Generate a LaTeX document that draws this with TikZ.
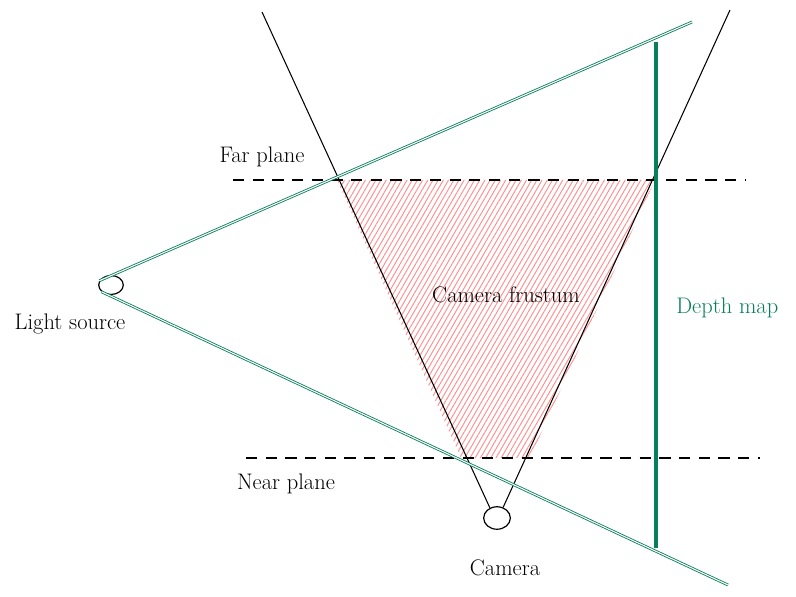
\documentclass[tikz,border=0pt]{standalone}
\usetikzlibrary{patterns.meta,shapes.geometric}
\definecolor{mapgreen}{HTML}{087F5B}
\definecolor{hatchred}{HTML}{FF9090}
\tikzset{
  ray/.style={line width=0.75pt},
  beam/.style={mapgreen, double=white, double distance=0.75pt, line width=0.6pt},
  plane/.style={line width=0.75pt, dash pattern=on 8pt off 6pt},
  eye/.style={draw, ellipse, line width=0.85pt, inner sep=0pt},
  lbl/.style={font=\fontsize{16}{18}\selectfont}
}
\begin{document}
\begin{tikzpicture}[x=0.025cm,y=-0.025cm]
  \useasboundingbox (0,0) rectangle (796,597);
  % corners of the frustum
  \coordinate (farL) at (337,180);
  \coordinate (farR) at (655,180);
  \coordinate (nearR) at (530,458);
  \coordinate (nearL) at (461,458);
  \fill[pattern={Lines[angle=60,distance=3.2pt,line width=0.7pt]}, pattern color=hatchred]
    (farL) -- (farR) -- (nearR) -- (nearL) -- cycle;
  % planes
  \coordinate (farA) at (233,180);
  \coordinate (farB) at (746,180);
  \coordinate (nearA) at (246,458);
  \coordinate (nearB) at (760,458);
  \draw[plane] (farA) -- (farB);
  \draw[plane] (nearA) -- (nearB);
  % camera and its rays
  \node[eye, minimum width=19pt, minimum height=16pt] (cam) at (497,518) {};
  \coordinate (camTL) at (262,12);
  \coordinate (camTR) at (730,10);
  \draw[ray] (cam.125) -- (camTL);
  \draw[ray] (cam.60) -- (camTR);
  % light source and its beams
  \node[eye, minimum width=17.5pt, minimum height=13.5pt] (light) at (111,285) {};
  \coordinate (beamT) at (692,22);
  \coordinate (beamB) at (728,585);
  \draw[beam] (light.160) -- (beamT);
  \draw[beam] (light.215) -- (beamB);
  % depth map
  \coordinate (mapT) at (656,42);
  \coordinate (mapB) at (656,548);
  \draw[mapgreen, line width=2.6pt] (mapT) -- (mapB);
  % labels
  \node[lbl] (farlbl) at (262,157) {Far plane};
  \node[lbl] (nearlbl) at (286,484) {Near plane};
  \node[lbl] (lightlbl) at (70,324) {Light source};
  \node[lbl] (camlbl) at (505,568) {Camera};
  \node[lbl] (frustlbl) at (506,295) {Camera frustum};
  \node[lbl, mapgreen, anchor=west, inner sep=0pt] (maplbl) at (676,308) {Depth map};
\end{tikzpicture}
\end{document}
